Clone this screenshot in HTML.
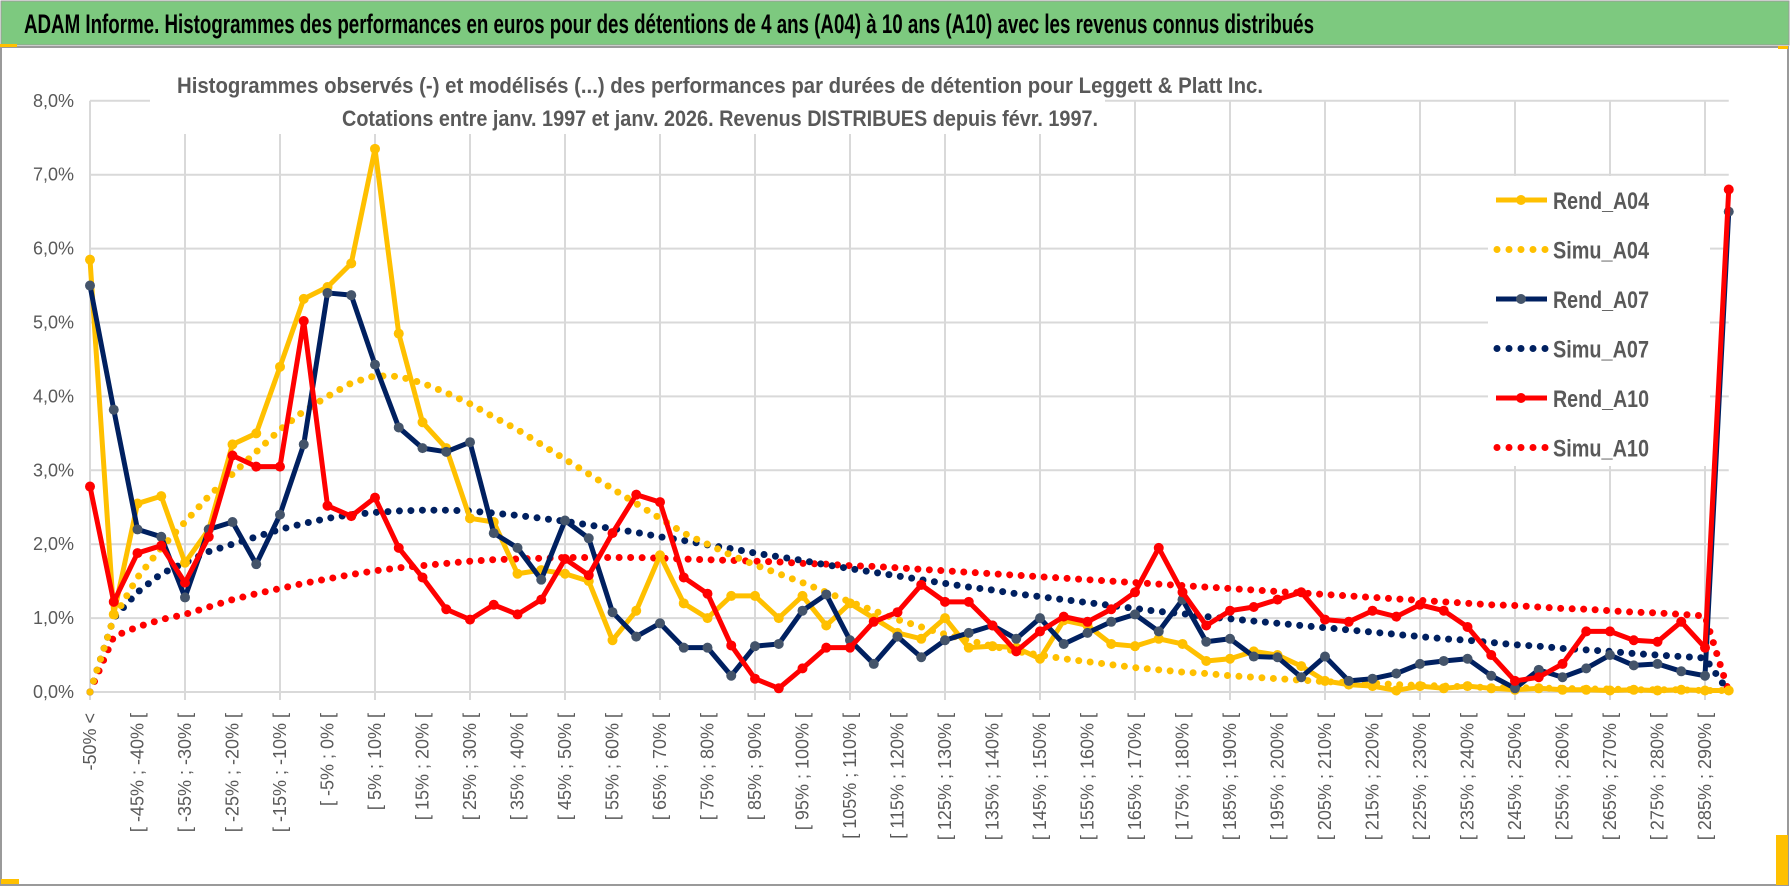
<!DOCTYPE html>
<html><head><meta charset="utf-8"><style>
html,body{margin:0;padding:0;background:#fff;}
svg{display:block;font-family:"Liberation Sans",sans-serif;}
</style></head><body>
<svg id="chart" width="1790" height="888" viewBox="0 0 1790 888">
<rect x="0" y="0" width="1790" height="888" fill="#fff"/>
<rect x="1" y="1" width="1788" height="44" fill="#7DC97F" stroke="#9a9a9a"/>
<text x="24" y="33" font-size="27" font-weight="bold" fill="#000" textLength="1290" lengthAdjust="spacingAndGlyphs">ADAM Informe. Histogrammes des performances en euros pour des détentions de 4 ans (A04) à 10 ans (A10) avec les revenus connus distribués</text>
<rect x="1" y="47" width="1787" height="838" fill="none" stroke="#9a9a9a" stroke-width="2"/>
<rect x="0" y="44" width="17" height="3" fill="#FFC000"/>
<rect x="1778" y="46" width="10" height="3" fill="#FFC000"/>
<rect x="1776" y="835" width="12" height="50" fill="#FFC000"/>
<rect x="1" y="879" width="18" height="5" fill="#FFC000"/>
<g id="grid"></g>
<rect x="150" y="62" width="955" height="72" fill="#fff"/>
<text x="720" y="93" text-anchor="middle" font-size="22" font-weight="bold" fill="#595959" textLength="1086" lengthAdjust="spacingAndGlyphs">Histogrammes observés (-) et modélisés (...) des performances par durées de détention pour Leggett &amp; Platt Inc.</text>
<text x="720" y="126" text-anchor="middle" font-size="22" font-weight="bold" fill="#595959" textLength="756" lengthAdjust="spacingAndGlyphs">Cotations entre janv. 1997 et janv. 2026. Revenus DISTRIBUES depuis févr. 1997.</text>
<g id="yaxis"></g>
<g id="xaxis"></g>
<g id="legendbg"></g>
<g id="series"></g>
<g id="legend"></g>
</svg>
<script>
const yTicks = ["0,0%","1,0%","2,0%","3,0%","4,0%","5,0%","6,0%","7,0%","8,0%"];
const rendA04 = [5.85,1.05,2.55,2.65,1.75,2.2,3.35,3.5,4.4,5.32,5.48,5.8,7.35,4.85,3.65,3.3,2.35,2.3,1.6,1.65,1.6,1.5,0.7,1.1,1.85,1.2,1.0,1.3,1.3,1.0,1.3,0.9,1.2,1.0,0.8,0.72,1.0,0.6,0.62,0.6,0.45,0.97,0.9,0.65,0.62,0.72,0.65,0.42,0.45,0.55,0.5,0.35,0.15,0.1,0.08,0.02,0.08,0.05,0.08,0.05,0.03,0.05,0.03,0.03,0.02,0.03,0.02,0.03,0.02,0.02];
const rendA07 = [5.5,3.82,2.2,2.1,1.28,2.2,2.3,1.73,2.4,3.35,5.4,5.37,4.43,3.58,3.3,3.25,3.38,2.15,1.95,1.52,2.32,2.08,1.08,0.75,0.93,0.6,0.6,0.22,0.62,0.65,1.1,1.32,0.7,0.38,0.75,0.47,0.7,0.8,0.9,0.72,1.0,0.65,0.8,0.95,1.05,0.82,1.25,0.68,0.72,0.48,0.47,0.2,0.48,0.15,0.18,0.25,0.38,0.42,0.45,0.22,0.05,0.3,0.2,0.32,0.5,0.36,0.38,0.28,0.22,6.5];
const rendA10 = [2.78,1.22,1.88,1.98,1.48,2.1,3.2,3.05,3.05,5.02,2.52,2.38,2.63,1.95,1.55,1.12,0.98,1.18,1.05,1.25,1.8,1.58,2.15,2.67,2.57,1.55,1.33,0.63,0.18,0.05,0.32,0.6,0.6,0.95,1.08,1.45,1.22,1.22,0.9,0.55,0.82,1.02,0.95,1.12,1.35,1.95,1.35,0.9,1.1,1.15,1.25,1.35,0.98,0.95,1.1,1.02,1.18,1.1,0.88,0.5,0.15,0.2,0.38,0.82,0.82,0.7,0.68,0.95,0.6,6.8];
const simuA04 = [0,1.0,1.55,1.95,2.3,2.65,2.95,3.25,3.55,3.8,4.0,4.18,4.28,4.27,4.18,4.05,3.9,3.72,3.55,3.35,3.15,2.95,2.75,2.55,2.35,2.15,2.0,1.85,1.72,1.6,1.48,1.35,1.22,1.1,0.98,0.88,0.78,0.7,0.62,0.55,0.5,0.45,0.41,0.37,0.33,0.3,0.27,0.25,0.22,0.2,0.18,0.16,0.14,0.13,0.12,0.1,0.09,0.08,0.07,0.06,0.06,0.05,0.05,0.04,0.04,0.03,0.03,0.03,0.02,0.02];
const simuA07 = [0,1.0,1.35,1.6,1.75,1.9,2.0,2.1,2.2,2.28,2.35,2.4,2.43,2.45,2.46,2.46,2.45,2.42,2.39,2.35,2.31,2.26,2.21,2.16,2.1,2.05,1.99,1.94,1.88,1.83,1.78,1.72,1.67,1.62,1.57,1.52,1.47,1.42,1.38,1.33,1.29,1.25,1.21,1.17,1.13,1.09,1.06,1.02,0.99,0.96,0.93,0.9,0.87,0.84,0.81,0.78,0.75,0.72,0.7,0.67,0.64,0.62,0.59,0.57,0.55,0.52,0.5,0.48,0.46,0];
const simuA10 = [0,0.75,0.88,0.98,1.05,1.15,1.25,1.33,1.4,1.47,1.53,1.59,1.64,1.68,1.71,1.74,1.77,1.79,1.8,1.81,1.82,1.82,1.82,1.82,1.81,1.8,1.79,1.78,1.77,1.76,1.74,1.73,1.71,1.7,1.68,1.66,1.64,1.62,1.6,1.58,1.56,1.54,1.52,1.5,1.48,1.46,1.44,1.42,1.4,1.38,1.36,1.34,1.32,1.3,1.28,1.26,1.24,1.22,1.2,1.18,1.17,1.15,1.13,1.12,1.1,1.08,1.07,1.05,1.03,0];
const categories = (function(){const c=["-50% <","[ -50% ; -45% ["];for(let v=-45;v<300;v+=5){c.push("[ "+v+"% ; "+(v+5)+"% [");}return c.slice(0,70);})();

const NS="http://www.w3.org/2000/svg";
const X0=90, DX=23.75, Y0=692, DY=73.9;
function xs(i){return X0+DX*i;}
function ys(v){return Y0-DY*v;}
function mk(tag,attrs,parent){const e=document.createElementNS(NS,tag);for(const k in attrs)e.setAttribute(k,attrs[k]);parent.appendChild(e);return e;}

const grid=document.getElementById('grid');
const right=xs(categories.length-1);
for(let k=0;k<yTicks.length;k++){
  const l=mk('line',{x1:X0,x2:right,y1:ys(k),y2:ys(k),stroke:'#d9d9d9','stroke-width':2},grid);
  
  
}
for(let i=4;i<categories.length;i+=4){
  const l=mk('line',{x1:xs(i),x2:xs(i),y1:ys(8),y2:Y0+8,stroke:'#d9d9d9','stroke-width':2},grid);
  
  
}
mk('line',{x1:X0,x2:X0,y1:ys(8),y2:Y0+8,stroke:'#d9d9d9','stroke-width':2},grid);

const yaxis=document.getElementById('yaxis');
yTicks.forEach((t,k)=>{
  const e=mk('text',{x:74,y:ys(k)+6,'text-anchor':'end','font-size':18,fill:'#595959'},yaxis);
  e.textContent=t;
  
  
});
const xaxis=document.getElementById('xaxis');
for(let i=0;i<categories.length;i+=2){
  const x=xs(i)+6;
  const e=mk('text',{x:x,y:713,'text-anchor':'end','font-size':18,fill:'#595959',transform:'rotate(-90 '+x+' 713)'},xaxis);
  e.setAttribute('xml:space','preserve');
  e.textContent=categories[i];
  
  
}

const lbg=document.getElementById('legendbg');
mk('rect',{x:1488,y:176,width:222,height:290,fill:'#fff'},lbg);

const series=document.getElementById('series');
function pts(arr){return arr.map((v,i)=>xs(i)+','+ys(v)).join(' ');}
function dotted(arr,color,name){
  const p=mk('polyline',{points:pts(arr),fill:'none',stroke:color,'stroke-width':7,'stroke-linecap':'round','stroke-linejoin':'round','stroke-dasharray':'0 11.5'},series);
  
  
}
function solid(arr,color,mcolor,name){
  const p=mk('polyline',{points:pts(arr),fill:'none',stroke:color,'stroke-width':5,'stroke-linejoin':'round'},series);
  
  
  arr.forEach((v,i)=>{
    const c=mk('circle',{cx:xs(i),cy:ys(v),r:5,fill:mcolor},series);
    
    
  });
}
dotted(simuA10,'#FF0000','simu-a10-line');
dotted(simuA07,'#002060','simu-a07-line');
dotted(simuA04,'#FFC000','simu-a04-line');
solid(rendA04,'#FFC000','#FFC000','rend-a04-line');
solid(rendA07,'#002060','#44546A','rend-a07-line');
solid(rendA10,'#FF0000','#FF0000','rend-a10-line');

const legend=document.getElementById('legend');
const leg=[["Rend_A04","#FFC000","#FFC000",false],["Simu_A04","#FFC000","",true],["Rend_A07","#002060","#44546A",false],["Simu_A07","#002060","",true],["Rend_A10","#FF0000","#FF0000",false],["Simu_A10","#FF0000","",true]];
leg.forEach((L,k)=>{
  const y=200+k*49.5;
  if(L[3]){
    const l=mk('line',{x1:1497,x2:1546,y1:y,y2:y,stroke:L[1],'stroke-width':7,'stroke-linecap':'round','stroke-dasharray':'0 12'},legend);
    
    
  } else {
    const l=mk('line',{x1:1496,x2:1547,y1:y,y2:y,stroke:L[1],'stroke-width':5},legend);
    
    
    mk('circle',{cx:1521,cy:y,r:5,fill:L[2]},legend);
  }
  const t=mk('text',{x:1553,y:y+9,'font-size':24,'font-weight':'bold',fill:'#595959',textLength:'96',lengthAdjust:'spacingAndGlyphs'},legend);
  t.textContent=L[0];
  
  
});
</script>
</body></html>
